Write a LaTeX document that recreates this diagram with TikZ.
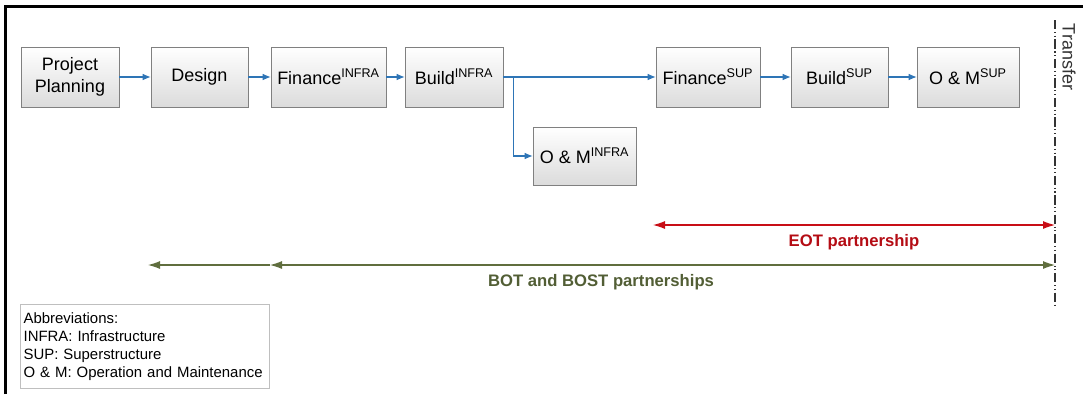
\documentclass[tikz,border=0pt]{standalone}
\usepackage{fontspec}
\setmainfont{Liberation Sans}
\usetikzlibrary{arrows,arrows.meta,shapes,positioning}

\definecolor{flowblue}{RGB}{46,117,182}
\definecolor{eotred}{RGB}{200,14,22}
\definecolor{botgreen}{RGB}{96,110,62}

\tikzset{
  stage/.style={draw=black!50, top color=white, bottom color=black!14,
    minimum height=45pt, inner sep=1pt, align=center,
    font=\fontsize{13.5}{17}\selectfont},
  flow/.style={draw=flowblue, line width=0.8pt,
    -{Latex[length=6pt,width=5pt]}},
  partner/.style={line width=0.8pt, font=\fontsize{12.5}{15}\selectfont\bfseries},
  ptip/.tip={Latex[length=9pt,width=6pt]}
}

\begin{document}
\begin{tikzpicture}[x=0.75pt,y=-0.75pt]

      % Definitions
      \pgfmathsetmacro{\ym}{77}
      \pgfmathsetmacro{\xt}{1055}
      \useasboundingbox (0,0) rectangle (1083,394);

      % frame
      \draw[line width=1.7pt] (5.5,394) |- (1083,6.5);

      % stages
      \node[stage, minimum width=73.5pt] (plan) at (70,\ym) {Project\\Planning};
      \node[stage, minimum width=72.75pt] (design) at (199.5,\ym) {Design};
      \node[stage, minimum width=86.25pt] (finInfra) at (328.5,\ym)
        {Finance\textsuperscript{INFRA}};
      \node[stage, minimum width=73.5pt] (buildInfra) at (454,\ym)
        {Build\textsuperscript{INFRA}};
      \node[stage, minimum width=77.25pt, minimum height=43.5pt] (omInfra)
        at (584.5,156) {O \& M\textsuperscript{INFRA}};
      \node[stage, minimum width=78pt] (finSup) at (708,\ym)
        {Finance\textsuperscript{SUP}};
      \node[stage, minimum width=72.75pt] (buildSup) at (839.5,\ym)
        {Build\textsuperscript{SUP}};
      \node[stage, minimum width=76.5pt] (omSup) at (968,\ym)
        {O \& M\textsuperscript{SUP}};

      % flow arrows
      \draw[flow] (plan) -- (design);
      \draw[flow] (design) -- (finInfra);
      \draw[flow] (finInfra) -- (buildInfra);
      \draw[flow] (buildInfra) -- (finSup);
      \draw[flow] (buildInfra.east) -- +(10,0) |- (omInfra.west);
      \draw[flow] (finSup) -- (buildSup);
      \draw[flow] (buildSup) -- (omSup);

      % transfer line
      \coordinate (trTop) at (\xt,20);
      \coordinate (trBot) at (\xt,306);
      \draw[black!80, line width=0.8pt,
        dash pattern=on 7pt off 2pt on 0.8pt off 2pt on 0.8pt off 2pt]
        (trTop) -- (trBot);
      \node[rotate=-90, font=\fontsize{13.5}{16}\selectfont, text=black!80]
        (transfer) at (1069,57) {Transfer};

      % partnerships
      \coordinate (eotL) at (653,225);
      \coordinate (eotR) at (\xt,225);
      \draw[partner, eotred, ptip-ptip] (eotL) -- (eotR)
        node[midway, below=3pt, text=eotred!90!black] {EOT partnership};

      \coordinate (botL) at (148,265);
      \coordinate (botM) at (270,265);
      \coordinate (botR) at (\xt,265);
      \draw[partner, botgreen, -ptip] (botM) -- (botL);
      \draw[partner, botgreen, ptip-ptip] (botM) -- (botR);
      \node[partner, text=botgreen!85!black, below=3pt] (botText)
        at (601,265) {BOT and BOST partnerships};

      % abbreviations
      \node[draw=black!25, anchor=north west, align=left, text width=182pt,
        minimum height=63pt, inner xsep=2.5pt,
        font=\fontsize{11.2}{13.5}\selectfont] (abbrev) at (20,304)
        {Abbreviations:\\INFRA: Infrastructure\\SUP: Superstructure\\
         O \& M: Operation and Maintenance};
\end{tikzpicture}
\end{document}
